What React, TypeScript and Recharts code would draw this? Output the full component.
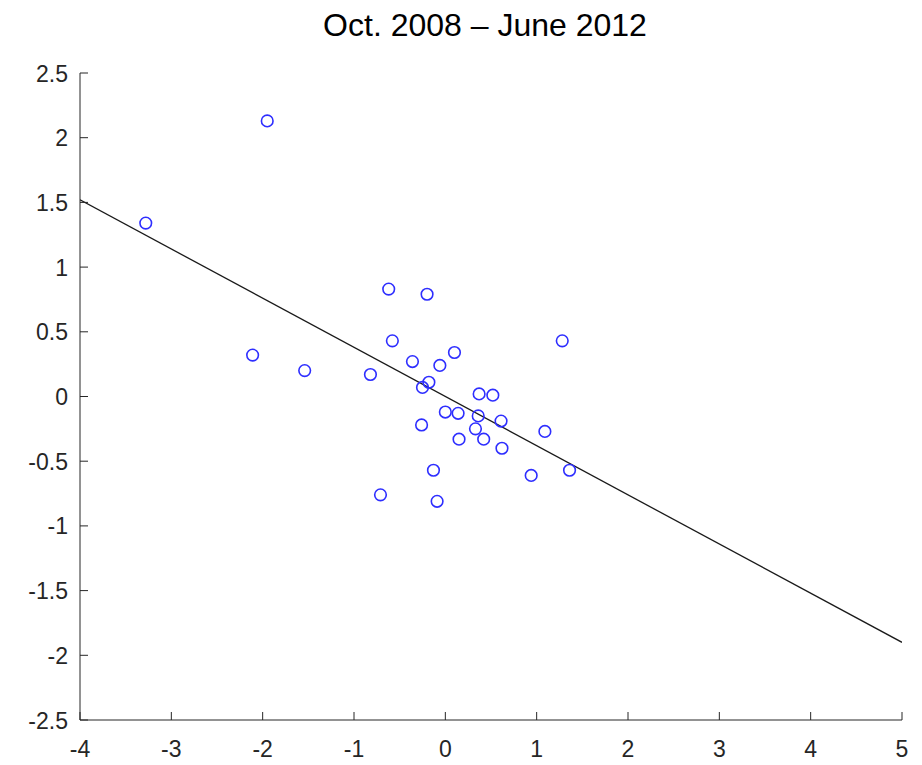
import { ScatterChart, Scatter, XAxis, YAxis } from 'recharts'

// scatter points
const pointX = [
  -1.95, -3.28, -2.11, -1.54, -0.62, -0.20, -0.58, 1.28, 0.10, -0.36, -0.06,
  -0.82, -0.18, -0.25, 0.37, 0.52, 0.00, 0.14, 0.36, 0.61, -0.26, 0.33,
  1.09, 0.15, 0.42, 0.62, -0.13, 0.94, 1.36, -0.71, -0.09,
]
const pointY = [
  2.13, 1.34, 0.32, 0.20, 0.83, 0.79, 0.43, 0.43, 0.34, 0.27, 0.24,
  0.17, 0.11, 0.07, 0.02, 0.01, -0.12, -0.13, -0.15, -0.19, -0.22, -0.25,
  -0.27, -0.33, -0.33, -0.40, -0.57, -0.61, -0.57, -0.76, -0.81,
]

// fitted line end points
const fitX = [-4, 5]
const fitY = [1.52, -1.9]

const xTicks = [-4, -3, -2, -1, 0, 1, 2, 3, 4, 5]
const yTicks = [-2.5, -2, -1.5, -1, -0.5, 0, 0.5, 1, 1.5, 2, 2.5]

const points = pointX.map((x, i) => ({ x, y: pointY[i] }))
const fit = fitX.map((x, i) => ({ x, y: fitY[i] }))

const INK = '#262626'
const FONT = '"Liberation Sans", Arial, Helvetica, sans-serif'

function XTick({ x, y, payload }: any) {
  return (
    <g>
      <line x1={x} x2={x} y1={y} y2={y - 8} stroke={INK} strokeWidth={1} />
      <text x={x} y={y + 37} textAnchor="middle" fontSize={23} fill={INK} fontFamily={FONT}>
        {String(payload.value)}
      </text>
    </g>
  )
}

function YTick({ x, y, payload }: any) {
  return (
    <g>
      <line x1={x} x2={x + 8} y1={y} y2={y} stroke={INK} strokeWidth={1} />
      <text x={x - 12} y={y + 8.5} textAnchor="end" fontSize={23} fill={INK} fontFamily={FONT}>
        {String(payload.value)}
      </text>
    </g>
  )
}

function Ring({ cx, cy }: any) {
  return <circle cx={cx} cy={cy} r={5.8} fill="none" stroke="#2e2eff" strokeWidth={1.6} />
}

export default function App() {
  return (
    <div style={{ position: 'absolute', left: 0, top: 0, width: 922, height: 765, background: '#fff' }}>
      <div
        style={{
          position: 'absolute',
          top: 9,
          left: 485,
          transform: 'translateX(-50%)',
          whiteSpace: 'nowrap',
          fontFamily: FONT,
          fontSize: 32,
          lineHeight: '32px',
          color: '#000',
        }}
      >
        Oct. 2008 – June 2012
      </div>
      <ScatterChart width={922} height={765} margin={{ top: 73, right: 20, bottom: 0, left: 0 }}>
        <XAxis
          type="number"
          dataKey="x"
          domain={[-4, 5]}
          ticks={xTicks}
          interval={0}
          height={45}
          tickSize={0}
          tickMargin={0}
          tickLine={false}
          axisLine={{ stroke: INK, strokeWidth: 1 }}
          tick={<XTick />}
          allowDataOverflow
        />
        <YAxis
          type="number"
          dataKey="y"
          domain={[-2.5, 2.5]}
          ticks={yTicks}
          interval={0}
          width={80}
          tickSize={0}
          tickMargin={0}
          tickLine={false}
          axisLine={{ stroke: INK, strokeWidth: 1 }}
          tick={<YTick />}
          allowDataOverflow
        />
        <Scatter
          data={fit}
          line={{ stroke: '#1a1a1a', strokeWidth: 1.3 }}
          shape={() => <g />}
          isAnimationActive={false}
        />
        <Scatter data={points} shape={<Ring />} isAnimationActive={false} />
      </ScatterChart>
    </div>
  )
}
